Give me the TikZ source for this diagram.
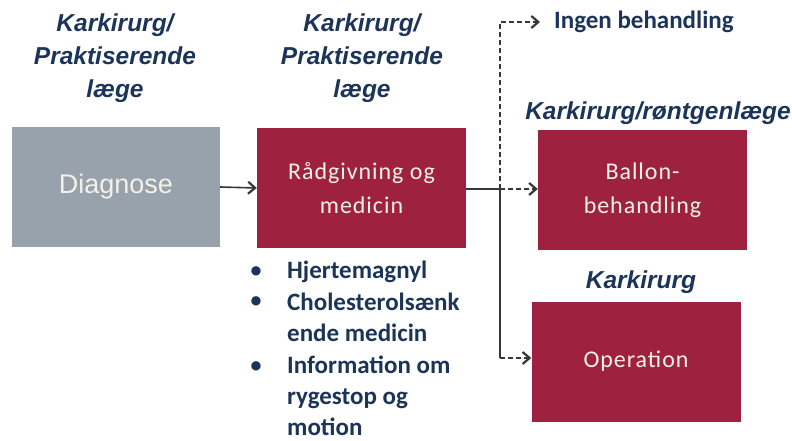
\documentclass[tikz,border=0pt]{standalone}
\usepackage{fontspec}
\setmainfont{Carlito}
\newfontfamily\hdfont{Liberation Sans}
\newfontfamily\boxfont[LetterSpace=4]{Carlito}
\usetikzlibrary{arrows.meta}
\definecolor{navy}{RGB}{28,52,88}
\definecolor{boxred}{RGB}{158,34,64}
\definecolor{boxgrey}{RGB}{152,162,172}
\definecolor{boxtext}{RGB}{245,240,232}
\definecolor{linegrey}{RGB}{55,55,55}
\tikzset{
  hdr/.style={font=\hdfont\bfseries\itshape\fontsize{24.5}{33}\selectfont, text=navy, align=center, inner sep=0pt},
  redbox/.style={fill=boxred, minimum width=209pt, minimum height=120pt, inner sep=0pt, text=boxtext, align=center, font=\boxfont\fontsize{24}{34}\selectfont},
  greybox/.style={fill=boxgrey, minimum width=208pt, minimum height=120pt, inner sep=0pt, text=boxtext, font=\hdfont\fontsize{27}{30}\selectfont},
  item/.style={font=\bfseries\fontsize{25}{31}\selectfont, text=navy, align=left, inner sep=0pt, anchor=west},
  bul/.style={font=\bfseries\fontsize{22}{26}\selectfont, text=navy, inner sep=0pt},
  conn/.style={draw=linegrey, line width=1.6pt},
  tip/.style={-{Straight Barb[length=7pt,width=12pt,line width=2.2pt]}},
  dsh/.style={dash pattern=on 5pt off 3pt}
}
\begin{document}
\begin{tikzpicture}[x=1pt,y=-1pt]
\useasboundingbox (0,0) rectangle (792,441);
% headers
\node[hdr] (h1) at (115,58) {Karkirurg/\\Praktiserende\\læge};
\node[hdr] (h2) at (362,58) {Karkirurg/\\Praktiserende\\læge};
\node[hdr] (h3) at (658,113) {Karkirurg/røntgenlæge};
\node[hdr] (h4) at (641,282) {Karkirurg};
% boxes
\node[greybox] (diag) at (116,187) {Diagnose};
\node[redbox] (raad) at (361.5,188) {Rådgivning og\\medicin};
\node[redbox] (ball) at (642.5,190) {Ballon-\\behandling};
\node[redbox] (oper) at (636,361.5) {Operation};
% ingen
\node[font=\bfseries\fontsize{25}{30}\selectfont, text=navy, anchor=west, inner sep=0pt] (ingen) at (554,22) {Ingen behandling};
% bullets
\node[bul] (b1) at (256,272) {•};
\node[item] (t1) at (287,272) {Hjertemagnyl};
\node[bul] (b2) at (256,302) {•};
\node[item] (t2) at (287,317.5) {Cholesterolsænk\\ende medicin};
\node[bul] (b3) at (256,367) {•};
\node[item] (t3) at (287,396) {Information om\\rygestop og\\motion};
% connectors
\coordinate (br) at (500,189);
\draw[conn,tip] (diag.east) -- (raad.west);
\draw[conn] (raad.east |- br) -- (br);
\draw[conn,dsh,tip,shorten >=14pt] (br) -- (500,22) -- (ingen.west);
\draw[conn,dsh,tip] (br) -- (ball.west |- br);
\coordinate (bot) at (500,358);
\draw[conn] (br) -- (bot);
\draw[conn,dsh,tip] (bot) -- (oper.west |- bot);
\end{tikzpicture}
\end{document}
